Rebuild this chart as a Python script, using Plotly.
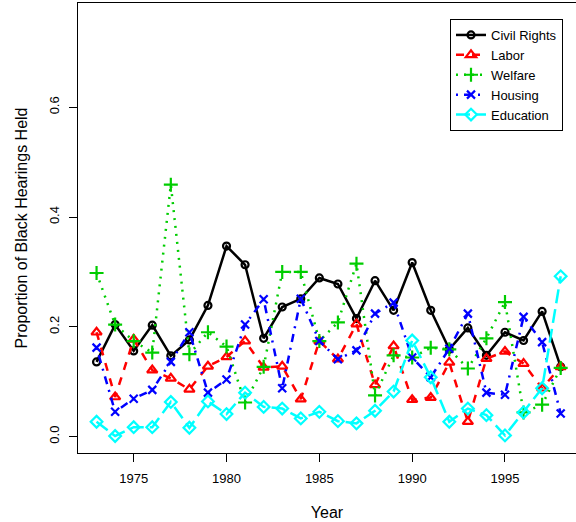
import plotly.graph_objects as go

years = list(range(1973, 1999))

civil_rights = [0.136, 0.204, 0.156, 0.203, 0.147, 0.176, 0.239, 0.347, 0.313, 0.179,
                0.236, 0.251, 0.289, 0.278, 0.215, 0.284, 0.230, 0.317, 0.230, 0.159,
                0.198, 0.148, 0.190, 0.175, 0.228, 0.127]
labor = [0.190, 0.072, 0.177, 0.121, 0.106, 0.086, 0.128, 0.145, 0.174, 0.126,
         0.128, 0.068, 0.174, 0.141, 0.205, 0.094, 0.165, 0.067, 0.071, 0.135,
         0.027, 0.142, 0.155, 0.133, 0.088, 0.127]
welfare = [0.298, 0.204, 0.174, 0.153, 0.459, 0.150, 0.190, 0.164, 0.062, 0.127,
           0.300, 0.300, 0.174, 0.208, 0.315, 0.075, 0.148, 0.144, 0.162, 0.159,
           0.124, 0.179, 0.245, 0.044, 0.058, 0.125]
housing = [0.162, 0.045, 0.069, 0.085, 0.136, 0.190, 0.080, 0.104, 0.204, 0.250,
           0.088, 0.251, 0.174, 0.141, 0.157, 0.224, 0.244, 0.144, 0.108, 0.160,
           0.224, 0.080, 0.076, 0.218, 0.172, 0.042]
education = [0.027, 0.001, 0.017, 0.017, 0.063, 0.016, 0.064, 0.041, 0.080, 0.054,
             0.051, 0.033, 0.045, 0.028, 0.024, 0.047, 0.082, 0.175, 0.108, 0.027,
             0.051, 0.039, 0.002, 0.044, 0.088, 0.292]

x_ticks = [1975, 1980, 1985, 1990, 1995]
y_ticks = [0.0, 0.2, 0.4, 0.6]

series = [
    ("Civil Rights", civil_rights, "#000000", "solid", "circle-open", 7),
    ("Labor", labor, "#FF0000", "8px,8px", "triangle-up-open", 9),
    ("Welfare", welfare, "#00CD00", "2px,6px", "cross-thin-open", 10),
    ("Housing", housing, "#0000FF", "2px,6px,8px,6px", "x-thin-open", 8),
    ("Education", education, "#00FFFF", "14px,6px", "diamond-open", 9),
]

fig = go.Figure()
for name, vals, color, dash, sym, size in series:
    fig.add_trace(go.Scatter(
        x=years, y=vals, name=name, mode="lines+markers",
        line=dict(color=color, width=2.5, dash=dash),
        marker=dict(symbol=sym, size=size, color=color, line=dict(color=color, width=2.2)),
    ))

font = "Liberation Sans, Arial, Helvetica, sans-serif"
fig.update_layout(
    width=576, height=522,
    margin=dict(l=78, r=0, t=3, b=69),
    paper_bgcolor="white", plot_bgcolor="white",
    font=dict(family=font, size=13, color="black"),
    showlegend=True,
    legend=dict(
        x=(450 - 78) / 498, y=(453 - 19) / 450, xanchor="left", yanchor="top",
        bordercolor="black", borderwidth=1, bgcolor="white",
        font=dict(size=13), tracegroupgap=0,
    ),
    xaxis=dict(
        range=[1972, 1998.825], tickvals=x_ticks, ticktext=[str(v) for v in x_ticks],
        showgrid=False, zeroline=False, showline=True, linecolor="black", linewidth=1,
        mirror=True, ticks="outside", ticklen=8, tickcolor="black", automargin=False,
        ticklabelstandoff=5,
        title=dict(text="Year", standoff=22), tickfont=dict(size=13),
    ),
    yaxis=dict(
        range=[-0.03, 0.79], tickvals=y_ticks, ticktext=["%.1f" % v for v in y_ticks],
        showgrid=False, zeroline=False, showline=True, linecolor="black", linewidth=1,
        ticks="outside", ticklen=8, tickcolor="black", tickangle=-90, automargin=False,
        ticklabelstandoff=5,
        title=dict(text="Proportion of Black Hearings Held", standoff=15), tickfont=dict(size=13),
    ),
)

fig.write_html(
    "out.html",
    config={"displayModeBar": False},
    post_script="document.body.style.margin='0px';document.body.style.overflow='hidden';",
)
